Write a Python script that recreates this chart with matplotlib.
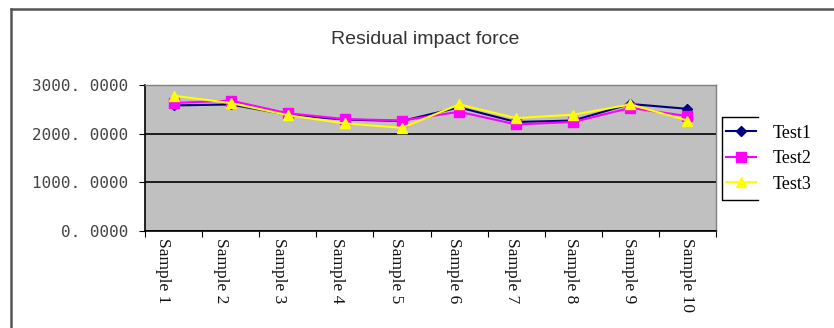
import matplotlib
matplotlib.use("Agg")
import matplotlib.pyplot as plt
from matplotlib.lines import Line2D
import matplotlib.transforms as mtransforms

categories = ["Sample 1", "Sample 2", "Sample 3", "Sample 4", "Sample 5",
              "Sample 6", "Sample 7", "Sample 8", "Sample 9", "Sample 10"]
test1 = [2580, 2600, 2390, 2290, 2260, 2540, 2240, 2270, 2610, 2510]
test2 = [2630, 2680, 2420, 2300, 2270, 2450, 2190, 2240, 2530, 2360]
test3 = [2780, 2630, 2380, 2210, 2120, 2600, 2320, 2390, 2600, 2270]
yticks = [0, 1000, 2000, 3000]
ytick_labels = ["0. 0000", "1000. 0000", "2000. 0000", "3000. 0000"]
series = [("Test1", test1, "#000080", "D", 5),
          ("Test2", test2, "#ff00ff", "s", 7),
          ("Test3", test3, "#ffff00", "^", 7)]

W, H = 834, 328
fig = plt.figure(figsize=(W / 100, H / 100), dpi=100)
fig.patch.set_facecolor("white")

# outer chart border (top and left visible)
fig.add_artist(Line2D([11 / W, 11 / W], [0, 1 - 9 / H], color="#555555", lw=1.8))
fig.add_artist(Line2D([11 / W, 1], [1 - 9 / H, 1 - 9 / H], color="#555555", lw=1.8))

ax = fig.add_axes([145 / W, 97 / H, 571 / W, 146 / H])
ax.set_facecolor("#c0c0c0")
x = [i + 0.5 for i in range(len(categories))]
handles = []
for name, vals, col, mk, ms in series:
    h, = ax.plot(x, vals, color=col, marker=mk, markersize=ms, lw=1.5, label=name,
                 markeredgecolor=col, markerfacecolor=col)
    handles.append(h)

ax.set_xlim(0, len(categories))
ax.set_ylim(0, 3000)
ax.set_yticks(yticks)
ax.set_yticklabels(ytick_labels, family="DejaVu Sans Mono", fontsize=11.5, color="#444444")
ax.set_xticks(range(len(categories) + 1))
ax.set_xticklabels([])
ax.tick_params(axis="x", which="major", length=4, direction="out", color="black")
ax.tick_params(axis="y", length=4, direction="out", color="black", pad=8)
ax.yaxis.grid(True, color="black", lw=1.2)
ax.set_axisbelow(True)
for s in ["left", "bottom"]:
    ax.spines[s].set_color("black")
    ax.spines[s].set_linewidth(1.2)
for s in ["top", "right"]:
    ax.spines[s].set_color("#808080")
    ax.spines[s].set_linewidth(1.0)

# category labels (rotated, slightly shifted like the reference)
base = mtransforms.blended_transform_factory(ax.transData, ax.transAxes)
for i, (xi, lab) in enumerate(zip(x, categories)):
    dx = (-11 + 1.2 * i) / 100.0
    tr = base + mtransforms.ScaledTranslation(dx, -0.07, fig.dpi_scale_trans)
    ax.text(xi, 0, lab, transform=tr, rotation=-90, family="Liberation Serif",
            fontsize=12.5, color="#111111", va="top", ha="center",
            rotation_mode="default")

leg = fig.legend(handles=handles, loc="upper left", bbox_to_anchor=(722 / W, 1 - 121 / H),
                 prop={"family": "Liberation Serif", "size": 13},
                 frameon=False, handlelength=1.7, handletextpad=0.9, borderpad=0.2,
                 labelspacing=0.47, borderaxespad=0)

# legend bracket-shaped frame as in the reference
lx0, lx1, ly0, ly1 = 722 / W, 758 / W, 1 - 117 / H, 1 - 200 / H
fig.add_artist(Line2D([lx1, lx0, lx0, lx1], [ly0, ly0, ly1, ly1], color="black", lw=1.0))

fig.text(425 / W, 1 - 40 / H, "Residual impact force", ha="center", va="center",
         family="Liberation Sans", fontsize=14, color="#333333")

fig.savefig("out.png", dpi=100)
